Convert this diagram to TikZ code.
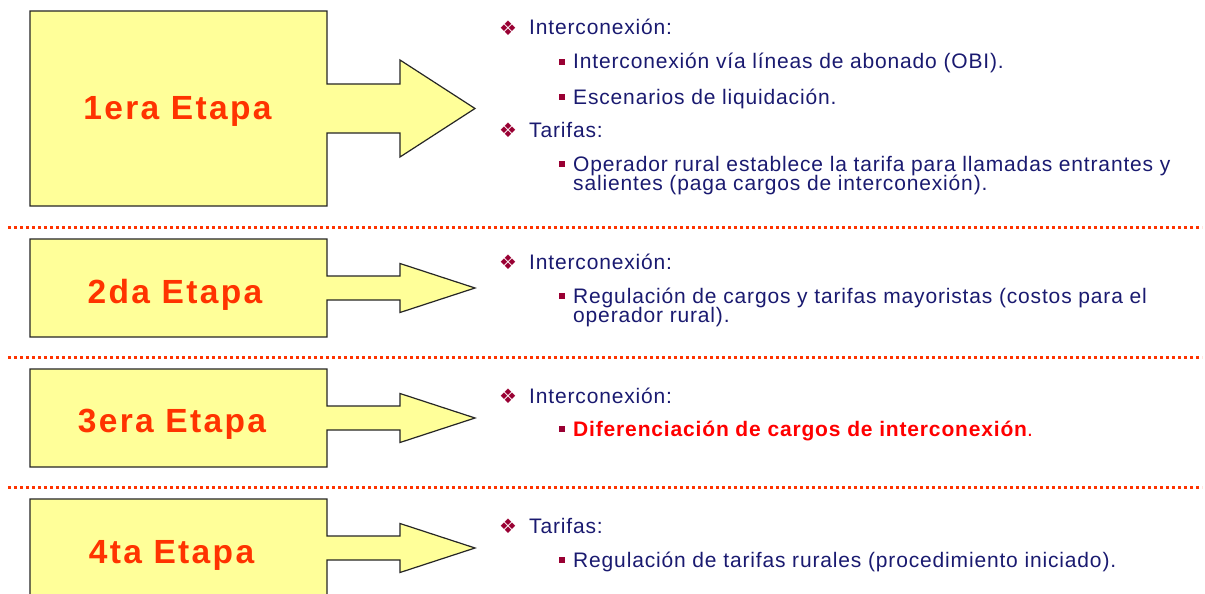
\documentclass[tikz,border=0pt]{standalone}
\usepackage{fontspec}
\setmainfont{Liberation Sans}
\newfontfamily\symfont{DejaVu Sans}
\newfontfamily\titlefont[LetterSpace=7]{Liberation Sans}
\newfontfamily\bodyfont[LetterSpace=4]{Liberation Sans}
\definecolor{boxyellow}{HTML}{FFFF99}
\definecolor{titlered}{HTML}{FF3300}
\definecolor{sepred}{HTML}{FF3300}
\definecolor{navy}{HTML}{1A1A70}
\definecolor{bulletred}{HTML}{990033}
\definecolor{hotred}{HTML}{FF0000}
\newcommand\stageshape[5]{%
  \path[stagebox] (30,#1) -- (327,#1) -- (327,#3-#4) -- (400,#3-#4) -- (400,#3-#5)
    -- (475,#3) -- (400,#3+#5) -- (400,#3+#4) -- (327,#3+#4) -- (327,#2) -- (30,#2) -- cycle;}
\begin{document}
\begin{tikzpicture}[x=1pt,y=-1pt,
  stagebox/.style={fill=boxyellow, draw=black!85, line width=1.2pt, line join=miter},
  sepline/.style={draw=sepred, line width=3pt, dash pattern=on 3pt off 3pt},
  stagetitle/.style={anchor=base, font=\titlefont\bfseries\fontsize{33.5}{36}\selectfont, text=titlered, inner sep=0},
  lone/.style={anchor=base west, font=\bodyfont\fontsize{21}{19}\selectfont, text=navy, inner sep=0},
  ltwo/.style={anchor=base west, font=\bodyfont\fontsize{21}{19}\selectfont, text=navy, inner sep=0},
  bulone/.style={font=\symfont\fontsize{20}{20}\selectfont, text=bulletred, inner sep=0},
  bultwo/.style={fill=bulletred, minimum size=5.5pt, inner sep=0, draw=none, rectangle}
]
\useasboundingbox (0,0) rectangle (1205,594);
\clip (0,0) rectangle (1205,594);
\fill[white] (0,0) rectangle (1205,594);

% separators
\coordinate (s1a) at (8,227); \coordinate (s1b) at (1202,227);
\coordinate (s2a) at (8,357); \coordinate (s2b) at (1202,357);
\coordinate (s3a) at (8,487); \coordinate (s3b) at (1202,487);
\draw[sepline] (s1a) -- (s1b);
\draw[sepline] (s2a) -- (s2b);
\draw[sepline] (s3a) -- (s3b);

% stage shapes
\stageshape{11}{206}{108.5}{24.5}{48.5}
\stageshape{239}{337}{288}{12}{24.5}
\stageshape{369}{467}{418}{12}{24.5}
\stageshape{499}{640}{548}{12}{24.5}

\node[stagetitle] (t1) at (177.5,119) {1era Etapa};
\node[stagetitle] (t2) at (175,303) {2da Etapa};
\node[stagetitle] (t3) at (172,432) {3era Etapa};
\node[stagetitle] (t4) at (171.5,563) {4ta Etapa};

% stage 1 text
\node[bulone] (b11) at (508,28) {❖};
\node[lone] (a11) at (529,35) {Interconexión:};
\node[bultwo] (q11) at (562,62) {};
\node[ltwo] (a12) at (573,69) {Interconexión vía líneas de abonado (OBI).};
\node[bultwo] (q12) at (562,97) {};
\node[ltwo] (a13) at (573,104) {Escenarios de liquidación.};
\node[bulone] (b12) at (508,130) {❖};
\node[lone] (a14) at (529,137) {Tarifas:};
\node[bultwo] (q13) at (562,164) {};
\node[ltwo] (a15) at (573,171) {Operador rural establece la tarifa para llamadas entrantes y};
\node[ltwo] (a16) at (573,190) {salientes (paga cargos de interconexión).};

% stage 2 text
\node[bulone] (b21) at (508,262) {❖};
\node[lone] (a21) at (529,269) {Interconexión:};
\node[bultwo] (q21) at (562,296) {};
\node[ltwo] (a22) at (573,303) {Regulación de cargos y tarifas mayoristas (costos para el};
\node[ltwo] (a23) at (573,322) {operador rural).};

% stage 3 text
\node[bulone] (b31) at (508,396) {❖};
\node[lone] (a31) at (529,403) {Interconexión:};
\node[bultwo] (q31) at (562,429) {};
\node[ltwo, text=hotred] (a32) at (573,436) {\textbf{Diferenciación de cargos de interconexión}.};

% stage 4 text
\node[bulone] (b41) at (508,526) {❖};
\node[lone] (a41) at (529,533) {Tarifas:};
\node[bultwo] (q41) at (562,560) {};
\node[ltwo] (a42) at (573,567) {Regulación de tarifas rurales (procedimiento iniciado).};
\end{tikzpicture}
\end{document}
